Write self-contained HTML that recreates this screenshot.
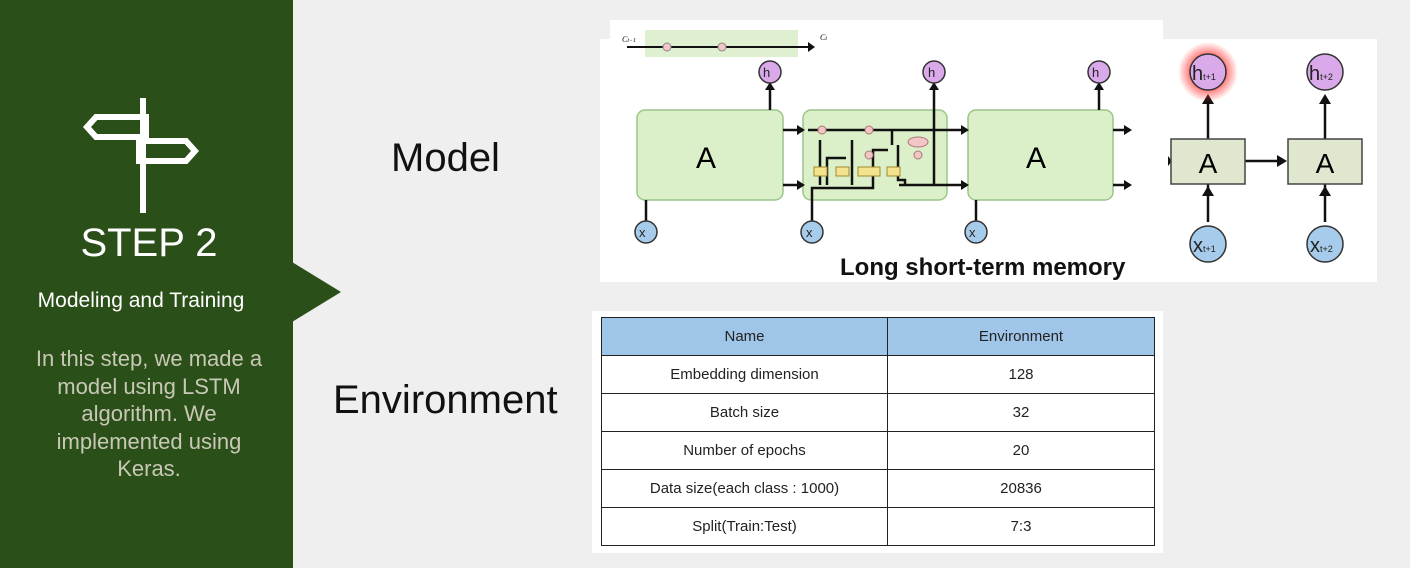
<!DOCTYPE html>
<html><head><meta charset="utf-8"><style>
body{margin:0;width:1410px;height:568px;background:#efefef;position:relative;overflow:hidden;font-family:"Liberation Sans",Arial,sans-serif}
.side{position:absolute;left:0;top:0;width:293px;height:568px;background:#2b4f19}
.t{position:absolute;white-space:nowrap}
table{position:absolute;left:601px;top:317px;border-collapse:collapse;font-size:15px;color:#222}
td{border:1.5px solid #222;height:37px;text-align:center;padding:0}
</style></head><body>
<div class="side"></div>
<svg style="position:absolute;left:0;top:0" width="1410" height="568">
<polygon points="292,262 341,292 292,322" fill="#2b4f19"/>
<g fill="none" stroke="#fff" stroke-width="6">
<line x1="143" y1="98" x2="143" y2="213"/>
<polygon points="146,117 96,117 87,127 96,137 146,137"/>
<polygon points="139,141 186,141 195,151 186,161 139,161"/>
</g>
<rect x="610" y="20" width="553" height="20" fill="#fff"/>
<rect x="600" y="39" width="777" height="243" fill="#fff"/>
<rect x="592" y="311" width="571" height="242" fill="#fff"/>
<rect x="645" y="30" width="153" height="27" fill="#dff0d0"/>
<line x1="627" y1="47" x2="810" y2="47" stroke="#111" stroke-width="2"/>
<polygon points="808,42 815,47 808,52" fill="#111"/>
<circle cx="667" cy="47" r="4" fill="#f2c6c6" stroke="#888"/><circle cx="722" cy="47" r="4" fill="#f2c6c6" stroke="#888"/>
<text x="622" y="42" font-size="8" font-style="italic" font-family="Liberation Serif">C<tspan font-size="6">t−1</tspan></text>
<text x="820" y="40" font-size="8" font-style="italic" font-family="Liberation Serif">C<tspan font-size="6">t</tspan></text>
<g fill="#dbf0c8" stroke="#9cc48a" stroke-width="1.5">
<rect x="637" y="110" width="146" height="90" rx="8"/>
<rect x="803" y="110" width="144" height="90" rx="8"/>
<rect x="968" y="110" width="145" height="90" rx="8"/>
</g>
<g stroke="#111" stroke-width="2.5" fill="none">
<line x1="783" y1="130" x2="798" y2="130"/><line x1="783" y1="185" x2="798" y2="185"/>
<line x1="808" y1="130" x2="962" y2="130"/><line x1="899" y1="185" x2="962" y2="185"/>
<line x1="1113" y1="130" x2="1125" y2="130"/><line x1="1113" y1="185" x2="1125" y2="185"/>
<line x1="770" y1="110" x2="770" y2="88"/><line x1="934" y1="122" x2="934" y2="88"/><line x1="1099" y1="110" x2="1099" y2="88"/>
<line x1="934" y1="122" x2="934" y2="185"/>
<line x1="646" y1="200" x2="646" y2="222"/><line x1="976" y1="200" x2="976" y2="222"/>
<path d="M812 222 V188 H873 V150 H888"/><path d="M898 145 V180 H905 V185"/>
<line x1="820" y1="185" x2="820" y2="140"/><line x1="852" y1="185" x2="852" y2="140"/><path d="M827 185 V158 H846"/><line x1="892" y1="130" x2="892" y2="145"/>
<line x1="1208" y1="139" x2="1208" y2="100"/><line x1="1325" y1="139" x2="1325" y2="100"/>
<line x1="1208" y1="184" x2="1208" y2="222"/><line x1="1325" y1="184" x2="1325" y2="222"/>
<line x1="1245" y1="161" x2="1278" y2="161"/>
</g>
<g fill="#111">
<polygon points="797,125 805,130 797,135"/><polygon points="797,180 805,185 797,190"/>
<polygon points="961,125 969,130 961,135"/><polygon points="961,180 969,185 961,190"/>
<polygon points="1124,125 1132,130 1124,135"/><polygon points="1124,180 1132,185 1124,190"/>
<polygon points="765,90 770,82 775,90"/><polygon points="929,90 934,82 939,90"/><polygon points="1094,90 1099,82 1104,90"/>
<polygon points="1202,104 1208,94 1214,104"/><polygon points="1319,104 1325,94 1331,104"/>
<polygon points="1202,196 1208,186 1214,196"/><polygon points="1319,196 1325,186 1331,196"/>
<polygon points="1277,155 1287,161 1277,167"/><polygon points="1168,156 1172,161 1168,166"/>
</g>
<g fill="#f3e38e" stroke="#a08a30"><rect x="814" y="167" width="13" height="9"/><rect x="836" y="167" width="13" height="9"/><rect x="858" y="167" width="22" height="9"/><rect x="887" y="167" width="13" height="9"/></g>
<g fill="#f2c6c6" stroke="#a77"><circle cx="822" cy="130" r="4"/><circle cx="869" cy="130" r="4"/><circle cx="869" cy="155" r="4"/><circle cx="918" cy="155" r="4"/><ellipse cx="918" cy="142" rx="10" ry="5"/></g>
<text x="706" y="168" font-size="30" text-anchor="middle">A</text>
<text x="1036" y="168" font-size="30" text-anchor="middle">A</text>
<g fill="#dfe8cf" stroke="#444" stroke-width="1.5"><rect x="1171" y="139" width="74" height="45"/><rect x="1288" y="139" width="74" height="45"/></g>
<text x="1208" y="173" font-size="28" text-anchor="middle">A</text><text x="1325" y="173" font-size="28" text-anchor="middle">A</text>
<defs><radialGradient id="g"><stop offset="0.5" stop-color="#ff3030" stop-opacity="0.8"/><stop offset="1" stop-color="#ff3030" stop-opacity="0"/></radialGradient></defs>
<circle cx="1208" cy="72" r="30" fill="url(#g)"/>
<g fill="#d9a9ea" stroke="#333" stroke-width="1.5"><circle cx="770" cy="72" r="11"/><circle cx="934" cy="72" r="11"/><circle cx="1099" cy="72" r="11"/><circle cx="1208" cy="72" r="18"/><circle cx="1325" cy="72" r="18"/></g>
<g fill="#a7cbea" stroke="#333" stroke-width="1.5"><circle cx="646" cy="232" r="11"/><circle cx="812" cy="232" r="11"/><circle cx="976" cy="232" r="11"/><circle cx="1208" cy="244" r="18"/><circle cx="1325" cy="244" r="18"/></g>
<g font-size="13" fill="#222"><text x="763" y="77">h</text><text x="928" y="77">h</text><text x="1092" y="77">h</text><text x="639" y="237">x</text><text x="806" y="237">x</text><text x="969" y="237">x</text></g>
<g font-size="20" fill="#222"><text x="1192" y="80">h<tspan font-size="9">t+1</tspan></text><text x="1309" y="80">h<tspan font-size="9">t+2</tspan></text><text x="1193" y="252">x<tspan font-size="9">t+1</tspan></text><text x="1310" y="252">x<tspan font-size="9">t+2</tspan></text></g>
<text x="840" y="275" font-size="24" font-weight="bold" fill="#111">Long short-term memory</text>
</svg>
<div class="t" style="left:0;width:298px;text-align:center;top:221px;font-size:40px;color:#fff">STEP 2</div>
<div class="t" style="left:0;width:282px;text-align:center;top:289px;font-size:21px;color:#fff">Modeling and Training</div>
<div class="t" style="left:0;width:298px;text-align:center;top:345px;font-size:22px;line-height:27.5px;color:#c8c8b6;white-space:normal">In this step, we made a<br>model using LSTM<br>algorithm. We<br>implemented using<br>Keras.</div>
<div class="t" style="left:391px;top:136px;font-size:40px;color:#111">Model</div>
<div class="t" style="left:333px;top:378px;font-size:40px;color:#111">Environment</div>
<table>
<tr style="background:#9fc5e8"><td style="width:285px">Name</td><td style="width:266px">Environment</td></tr>
<tr><td>Embedding dimension</td><td>128</td></tr>
<tr><td>Batch size</td><td>32</td></tr>
<tr><td>Number of epochs</td><td>20</td></tr>
<tr><td>Data size(each class : 1000)</td><td>20836</td></tr>
<tr><td>Split(Train:Test)</td><td>7:3</td></tr>
</table>
</body></html>
